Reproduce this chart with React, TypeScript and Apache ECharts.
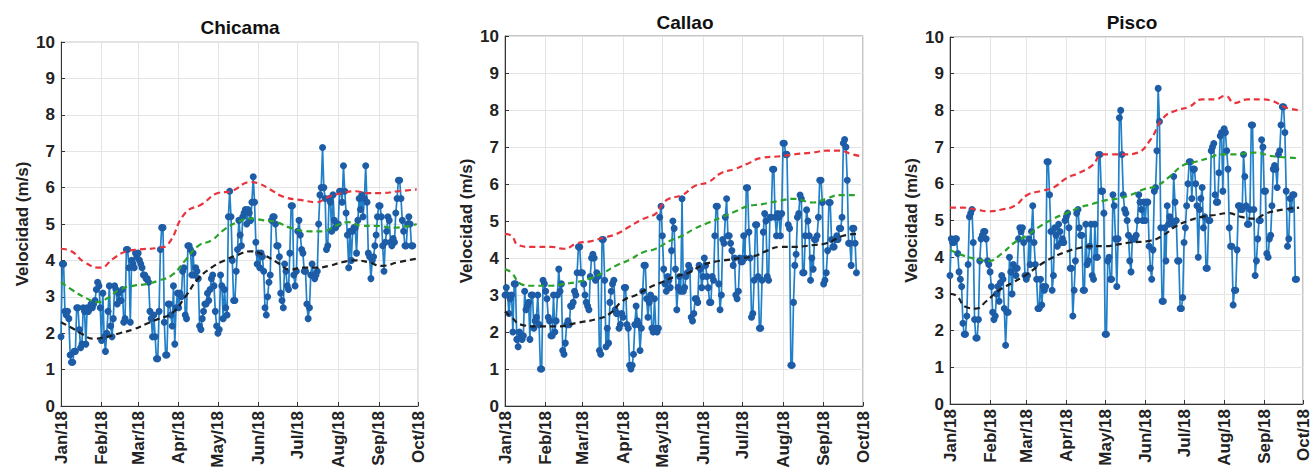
import React, { useEffect, useRef } from "react";
import * as echarts from "echarts";

const MONTH_LABELS = ["Jan/18", "Feb/18", "Mar/18", "Apr/18", "May/18", "Jun/18", "Jul/18", "Aug/18", "Sep/18", "Oct/18"];
const STATIONS = ["Chicama", "Callao", "Pisco"];
const Y_NAME = "Velocidad (m/s)";

// daily wind speed (m/s), starting 1 Jan 2018
const chicamaDaily = [
  1.9, 3.9, 3.9, 2.6, 2.5, 2.6, 2.4, 1.4, 1.2, 1.2, 1.5, 1.5, 2.7, 2.7, 2.1, 1.6, 1.7, 2.7, 2.6, 1.7, 2.7, 2.6, 2.7, 2.8, 2.7, 2.8, 2.9, 3.2, 3.4, 3.3, 2.7,
  1.8, 3.1, 1.9, 1.5, 2.0, 2.6, 3.3, 2.2, 1.9, 2.4, 3.3, 3.2, 2.8, 3.1, 2.9, 2.9, 3.2, 2.3, 2.4, 4.3, 4.3, 3.8, 2.3, 4.0, 3.9, 3.8, 4.2, 4.1,
  4.2, 4.0, 3.9, 3.8, 3.6, 3.6, 3.5, 3.5, 3.4, 2.6, 2.4, 1.9, 2.5, 1.9, 1.3, 1.3, 2.6, 4.3, 4.9, 4.9, 2.3, 1.4, 1.4, 2.8, 2.8, 2.5, 2.2, 3.3, 1.7, 2.7, 3.1,
  2.7, 3.1, 3.0, 3.7, 3.8, 2.5, 2.4, 4.4, 4.4, 4.3, 3.6, 4.2, 3.6, 3.8, 3.7, 3.5, 2.2, 2.1, 2.4, 2.6, 2.8, 2.8, 3.1, 2.9, 3.2, 3.5, 3.6, 3.3, 2.6, 2.2,
  2.0, 2.1, 3.6, 3.3, 2.4, 3.2, 2.7, 2.5, 5.2, 5.9, 5.2, 4.0, 2.9, 2.9, 3.7, 4.3, 5.1, 4.7, 4.4, 5.2, 5.3, 5.4, 5.0, 5.4, 5.3, 5.1, 5.6, 6.3, 5.6, 4.5, 3.9,
  4.2, 3.8, 4.2, 4.1, 3.7, 2.7, 2.5, 3.0, 3.4, 3.6, 5.1, 5.2, 5.2, 5.0, 4.4, 4.4, 4.1, 3.1, 2.9, 2.7, 3.9, 3.7, 3.3, 3.2, 4.2, 5.5, 5.5, 3.6, 3.3, 3.7,
  4.8, 5.1, 4.7, 4.3, 4.2, 3.7, 3.7, 2.8, 2.4, 2.7, 3.6, 3.9, 3.6, 3.5, 3.6, 3.7, 5.0, 5.8, 6.0, 7.1, 6.0, 5.7, 4.3, 4.4, 5.7, 5.6, 4.8, 5.8, 5.1, 4.9, 5.0,
  5.0, 5.9, 5.9, 5.6, 6.6, 5.9, 5.3, 4.7, 3.8, 4.8, 4.0, 4.8, 4.9, 4.9, 4.2, 5.1, 5.7, 5.4, 5.8, 5.2, 5.7, 6.6, 5.6, 4.2, 4.1, 3.5, 4.0, 4.1, 4.4, 4.7, 5.2,
  5.5, 5.5, 5.2, 4.4, 3.7, 4.5, 4.8, 5.2, 5.1, 4.5, 4.4, 4.6, 4.5, 5.3, 5.7, 6.2, 6.2, 5.7, 5.1, 4.8, 4.4, 4.4, 5.0, 5.2, 5.0, 4.4, 4.4,
];
const callaoDaily = [
  3.0, 3.2, 3.0, 2.5, 2.9, 3.0, 2.0, 3.3, 3.3, 1.8, 1.6, 2.0, 1.9, 1.8, 1.9, 3.1, 2.6, 2.7, 2.8, 1.8, 3.0, 3.0, 2.1, 2.3, 2.4, 3.0, 2.2, 1.0, 1.0, 3.4, 3.3,
  3.1, 2.9, 2.4, 2.3, 1.9, 1.9, 3.0, 2.0, 2.3, 3.0, 3.7, 3.1, 3.3, 1.5, 1.4, 1.7, 2.2, 2.3, 2.2, 2.7, 2.7, 2.8, 3.1, 3.0, 3.6, 4.3, 4.3, 3.6,
  3.6, 3.3, 3.0, 2.8, 2.7, 2.6, 3.5, 4.0, 4.1, 4.0, 3.4, 3.6, 3.5, 1.5, 1.4, 4.5, 4.5, 3.4, 1.6, 2.1, 1.7, 2.8, 3.1, 3.3, 3.4, 2.6, 2.5, 2.5, 2.1, 2.2, 2.5,
  2.4, 3.2, 3.2, 2.2, 2.1, 1.1, 1.0, 1.1, 1.4, 2.2, 2.7, 2.3, 2.2, 1.5, 2.1, 3.1, 3.8, 3.8, 2.9, 2.4, 2.8, 3.0, 2.1, 2.0, 2.9, 2.1, 2.0, 2.1, 5.1, 5.4,
  4.6, 3.7, 3.3, 3.1, 3.5, 3.4, 3.2, 4.2, 5.0, 4.8, 3.7, 2.6, 3.2, 3.5, 3.1, 5.6, 3.1, 3.2, 3.5, 3.6, 3.8, 3.7, 2.4, 2.3, 2.5, 2.9, 2.9, 2.8, 3.8, 3.7, 3.2,
  3.5, 4.0, 3.8, 3.5, 3.2, 2.8, 2.8, 3.5, 3.4, 4.6, 5.4, 5.4, 3.3, 2.6, 3.0, 4.5, 4.4, 5.1, 5.6, 4.6, 4.6, 4.4, 4.2, 3.8, 4.0, 3.0, 2.9, 3.1, 4.0, 3.9,
  3.9, 4.6, 4.0, 5.9, 5.9, 4.7, 4.0, 2.4, 2.5, 3.4, 4.9, 4.9, 3.5, 2.1, 2.1, 3.4, 4.7, 5.2, 5.0, 3.5, 3.4, 5.1, 5.1, 6.4, 6.4, 5.1, 4.6, 5.2, 5.1, 4.6, 5.2,
  7.1, 7.1, 6.8, 6.8, 4.9, 4.8, 1.1, 1.1, 2.8, 3.8, 4.1, 5.1, 5.2, 5.7, 5.6, 3.6, 3.6, 4.6, 5.3, 5.0, 4.6, 3.4, 4.0, 3.7, 4.5, 4.5, 4.6, 5.1, 6.1, 6.1, 5.5,
  3.3, 3.4, 3.6, 4.2, 5.5, 5.5, 4.5, 4.3, 4.3, 4.5, 4.6, 4.5, 4.8, 4.8, 5.1, 7.1, 7.2, 7.0, 6.1, 4.4, 4.4, 3.8, 4.8, 4.8, 4.4, 3.6,
];
const piscoDaily = [
  3.5, 4.5, 4.4, 4.4, 4.5, 4.5, 4.1, 3.6, 3.4, 3.2, 2.2, 1.9, 1.9, 2.4, 3.8, 5.1, 5.2, 5.3, 4.4, 2.3, 1.8, 1.8, 2.3, 3.9, 4.5, 4.6, 4.7, 4.7, 4.5, 3.9, 3.8,
  3.6, 3.2, 2.5, 2.3, 2.4, 3.0, 3.2, 2.8, 3.3, 3.5, 3.4, 2.6, 1.6, 2.5, 2.5, 4.0, 3.6, 3.0, 3.8, 3.7, 3.5, 3.7, 4.5, 4.8, 4.7, 4.8, 4.4, 3.5,
  3.4, 3.5, 4.5, 3.8, 4.7, 5.4, 4.4, 3.8, 3.4, 2.6, 2.6, 3.4, 2.7, 3.2, 3.1, 3.2, 6.6, 6.6, 5.7, 4.7, 3.1, 3.5, 4.8, 4.6, 4.3, 4.9, 4.7, 4.4, 4.5, 4.4, 5.0,
  5.1, 5.2, 4.8, 3.7, 3.7, 2.4, 3.1, 3.9, 5.2, 5.3, 4.8, 4.6, 4.6, 3.1, 3.1, 4.9, 3.8, 3.9, 4.3, 4.9, 3.5, 3.4, 4.9, 4.0, 4.0, 6.8, 6.8, 5.8, 5.8, 5.2,
  1.9, 1.9, 3.9, 4.0, 3.4, 3.4, 5.7, 5.4, 4.5, 3.2, 4.5, 7.8, 8.0, 6.8, 5.7, 5.3, 5.2, 5.0, 4.6, 3.9, 3.6, 4.5, 4.5, 4.5, 4.6, 5.0, 5.7, 5.5, 5.3, 5.0, 5.5,
  5.0, 5.5, 5.5, 4.3, 3.7, 3.4, 4.2, 5.8, 5.9, 6.9, 8.6, 7.7, 4.8, 2.8, 2.8, 4.8, 3.9, 5.4, 4.9, 5.1, 5.0, 4.9, 6.2, 5.5, 5.0, 3.9, 3.9, 2.6, 2.6, 2.9,
  4.4, 4.8, 5.4, 6.0, 6.6, 6.6, 5.6, 6.4, 6.4, 6.0, 5.4, 4.0, 5.3, 5.6, 5.9, 4.8, 5.1, 3.7, 3.7, 5.0, 5.0, 6.9, 7.0, 7.1, 5.7, 5.5, 5.5, 6.3, 7.3, 7.4, 5.8,
  7.5, 7.4, 6.9, 6.4, 4.8, 4.3, 4.3, 2.7, 3.1, 3.1, 4.2, 5.4, 5.4, 5.3, 5.3, 6.8, 6.2, 5.4, 4.9, 4.9, 5.3, 7.6, 7.6, 5.3, 3.5, 3.9, 4.5, 5.0, 5.0, 7.2, 7.0,
  5.8, 5.8, 4.1, 4.0, 4.5, 4.6, 5.4, 6.4, 6.5, 6.4, 5.9, 6.8, 6.9, 7.6, 8.1, 8.1, 7.4, 5.8, 4.3, 4.5, 5.6, 5.3, 5.7, 5.7, 3.4, 3.4,
];

// smooth reference curves: [day of year index, value]
const chicamaRed = [[0, 4.32], [8, 4.25], [18, 3.95], [30, 3.8], [40, 4.05], [50, 4.25], [60, 4.3], [75, 4.35], [82, 4.45], [95, 5.3], [108, 5.55], [120, 5.85], [130, 5.9], [145, 6.15], [152, 6.1], [160, 5.95], [170, 5.75], [185, 5.65], [195, 5.6], [205, 5.75], [215, 5.85], [225, 5.9], [235, 5.85], [245, 5.85], [258, 5.9], [272, 5.95]];
const chicamaGreen = [[0, 3.4], [8, 3.2], [20, 2.95], [28, 2.85], [35, 2.95], [45, 3.2], [55, 3.3], [65, 3.35], [75, 3.45], [85, 3.6], [95, 4.0], [105, 4.4], [115, 4.55], [125, 4.85], [135, 5.05], [145, 5.15], [155, 5.1], [165, 5.05], [175, 4.9], [190, 4.8], [200, 4.8], [210, 4.95], [220, 5.05], [230, 4.95], [240, 4.95], [255, 4.9], [272, 5.0]];
const chicamaBlack = [[0, 2.3], [8, 2.15], [15, 2.0], [25, 1.85], [35, 1.9], [45, 2.0], [55, 2.1], [65, 2.25], [75, 2.4], [85, 2.55], [95, 3.0], [105, 3.5], [115, 3.8], [125, 4.0], [135, 4.15], [145, 4.25], [155, 4.15], [165, 3.95], [175, 3.75], [185, 3.8], [195, 3.8], [205, 3.85], [215, 3.95], [225, 4.0], [235, 3.95], [245, 3.85], [258, 3.95], [272, 4.05]];

const callaoRed = [[0, 4.65], [5, 4.6], [10, 4.35], [20, 4.3], [35, 4.3], [45, 4.25], [55, 4.4], [65, 4.45], [75, 4.55], [85, 4.65], [95, 4.85], [105, 5.05], [115, 5.2], [120, 5.45], [125, 5.6], [135, 5.7], [145, 5.95], [155, 6.05], [165, 6.3], [175, 6.4], [185, 6.55], [195, 6.7], [210, 6.75], [220, 6.8], [235, 6.85], [245, 6.9], [255, 6.9], [265, 6.8], [272, 6.75]];
const callaoGreen = [[0, 3.7], [5, 3.6], [12, 3.3], [20, 3.25], [35, 3.25], [45, 3.3], [55, 3.35], [65, 3.45], [75, 3.6], [85, 3.8], [95, 3.95], [105, 4.15], [115, 4.25], [125, 4.45], [135, 4.6], [145, 4.8], [155, 4.95], [165, 5.1], [175, 5.25], [185, 5.4], [195, 5.45], [210, 5.55], [220, 5.6], [235, 5.5], [245, 5.6], [255, 5.7], [268, 5.7]];
const callaoBlack = [[0, 2.55], [5, 2.4], [12, 2.2], [25, 2.15], [40, 2.15], [55, 2.25], [70, 2.35], [80, 2.5], [90, 2.85], [100, 3.0], [110, 3.2], [120, 3.35], [130, 3.5], [140, 3.6], [150, 3.8], [160, 3.9], [170, 3.95], [180, 4.0], [190, 4.05], [200, 4.2], [210, 4.3], [220, 4.3], [235, 4.35], [245, 4.4], [258, 4.6], [268, 4.65]];

const piscoRed = [[0, 5.35], [10, 5.35], [20, 5.3], [30, 5.25], [40, 5.3], [50, 5.4], [60, 5.7], [70, 5.8], [80, 5.9], [90, 6.15], [100, 6.3], [110, 6.5], [118, 6.8], [125, 6.8], [135, 6.8], [145, 6.85], [155, 7.2], [165, 7.8], [175, 8.0], [185, 8.1], [195, 8.3], [205, 8.3], [213, 8.4], [220, 8.2], [230, 8.3], [240, 8.3], [250, 8.25], [258, 8.1], [270, 8.0]];
const piscoGreen = [[0, 4.2], [10, 4.05], [20, 3.95], [30, 3.9], [40, 4.1], [50, 4.4], [60, 4.6], [70, 4.85], [80, 5.05], [90, 5.2], [100, 5.35], [110, 5.45], [120, 5.55], [130, 5.6], [140, 5.7], [150, 5.85], [160, 5.95], [170, 6.2], [180, 6.5], [190, 6.6], [200, 6.7], [210, 6.8], [220, 6.8], [235, 6.85], [250, 6.75], [270, 6.7]];
const piscoBlack = [[0, 3.0], [5, 2.95], [12, 2.65], [20, 2.6], [28, 2.8], [38, 3.1], [48, 3.3], [58, 3.5], [70, 3.8], [80, 4.0], [90, 4.15], [100, 4.25], [110, 4.3], [120, 4.3], [130, 4.35], [140, 4.4], [155, 4.45], [165, 4.6], [175, 4.85], [185, 5.0], [195, 5.1], [205, 5.15], [215, 5.2], [225, 5.1], [235, 5.05], [245, 5.2], [258, 5.3], [270, 5.35]];

const DAILY = [chicamaDaily, callaoDaily, piscoDaily];
const RED = [chicamaRed, callaoRed, piscoRed];
const GREEN = [chicamaGreen, callaoGreen, piscoGreen];
const BLACK = [chicamaBlack, callaoBlack, piscoBlack];

// calendar days from 1 Jan 2018 to 1 Oct 2018
const DAYS: string[] = [];
{
  const start = Date.UTC(2018, 0, 1);
  const end = Date.UTC(2018, 9, 1);
  for (let t = start; t <= end; t += 86400000) DAYS.push(new Date(t).toISOString().slice(0, 10));
}

const FONT = "'Liberation Sans', Arial, Helvetica, sans-serif";
const GRIDS = [
  { left: 61, top: 42, width: 357, height: 364, border: "#c8c8c8", titleX: 240, titleY: 27 },
  { left: 505, top: 36, width: 358, height: 370, border: "#8a8a8a", titleX: 685, titleY: 22 },
  { left: 950, top: 37, width: 353, height: 367, border: "#8a8a8a", titleX: 1132, titleY: 22 },
];

const isMonthStart = (_i: number, v: string) => v.slice(8, 10) === "01";

export default function App() {
  const ref = useRef<HTMLDivElement>(null);
  useEffect(() => {
    document.body.style.margin = "0";
    if (!ref.current) return;
    const chart = echarts.init(ref.current, null, { renderer: "svg" });
    const grid: any[] = [];
    const xAxis: any[] = [];
    const yAxis: any[] = [];
    const series: any[] = [];
    const graphic: any[] = [];
    GRIDS.forEach((g, i) => {
      grid.push({ left: g.left, top: g.top, width: g.width, height: g.height, show: true, borderColor: g.border, borderWidth: 1, backgroundColor: "transparent" });
      xAxis.push({
        type: "category",
        gridIndex: i,
        data: DAYS,
        boundaryGap: false,
        axisLine: { lineStyle: { color: "#333", width: 1 } },
        axisTick: { inside: true, length: 4, interval: isMonthStart, lineStyle: { color: "#333" } },
        axisLabel: {
          interval: isMonthStart,
          rotate: 90,
          margin: 5,
          color: "#222",
          fontSize: 17,
          fontWeight: "bold",
          fontFamily: FONT,
          formatter: (v: string) => MONTH_LABELS[parseInt(v.slice(5, 7), 10) - 1],
        },
        splitLine: { show: true, interval: isMonthStart, lineStyle: { color: "#e4e4e4", width: 1 } },
      });
      yAxis.push({
        type: "value",
        gridIndex: i,
        min: 0,
        max: 10,
        interval: 1,
        name: Y_NAME,
        nameLocation: "middle",
        nameGap: 30,
        nameTextStyle: { fontSize: 17, fontWeight: "bold", color: "#222", fontFamily: FONT },
        axisLine: { show: true, lineStyle: { color: "#333", width: 1 } },
        axisTick: { show: true, inside: true, length: 4, lineStyle: { color: "#333" } },
        axisLabel: { margin: 6, color: "#222", fontSize: 17, fontWeight: "bold", fontFamily: FONT },
        splitLine: { show: true, lineStyle: { color: "#e4e4e4", width: 1 } },
      });
      series.push({
        type: "line",
        xAxisIndex: i,
        yAxisIndex: i,
        data: DAILY[i],
        symbol: "circle",
        symbolSize: 7,
        showSymbol: true,
        showAllSymbol: true,
        lineStyle: { color: "#2180c8", width: 1.7 },
        itemStyle: { color: "#1d5ca6" },
        z: 2,
      });
      const dashed = (data: number[][], color: string) => ({
        type: "line",
        xAxisIndex: i,
        yAxisIndex: i,
        data,
        smooth: true,
        symbol: "none",
        lineStyle: { color, width: 2.2, type: [6, 4] },
        z: 3,
      });
      series.push(dashed(RED[i], "#e8343c"));
      series.push(dashed(GREEN[i], "#2ba32b"));
      series.push(dashed(BLACK[i], "#1e1e1e"));
      graphic.push({
        type: "text",
        x: g.titleX,
        y: g.titleY,
        style: { text: STATIONS[i], fontSize: 19, fontWeight: "bold", fontFamily: FONT, fill: "#111", align: "center", verticalAlign: "middle" },
      });
    });
    chart.setOption({ animation: false, backgroundColor: "#fff", grid, xAxis, yAxis, series, graphic });
    return () => chart.dispose();
  }, []);
  return <div ref={ref} style={{ width: 1312, height: 474 }} />;
}
